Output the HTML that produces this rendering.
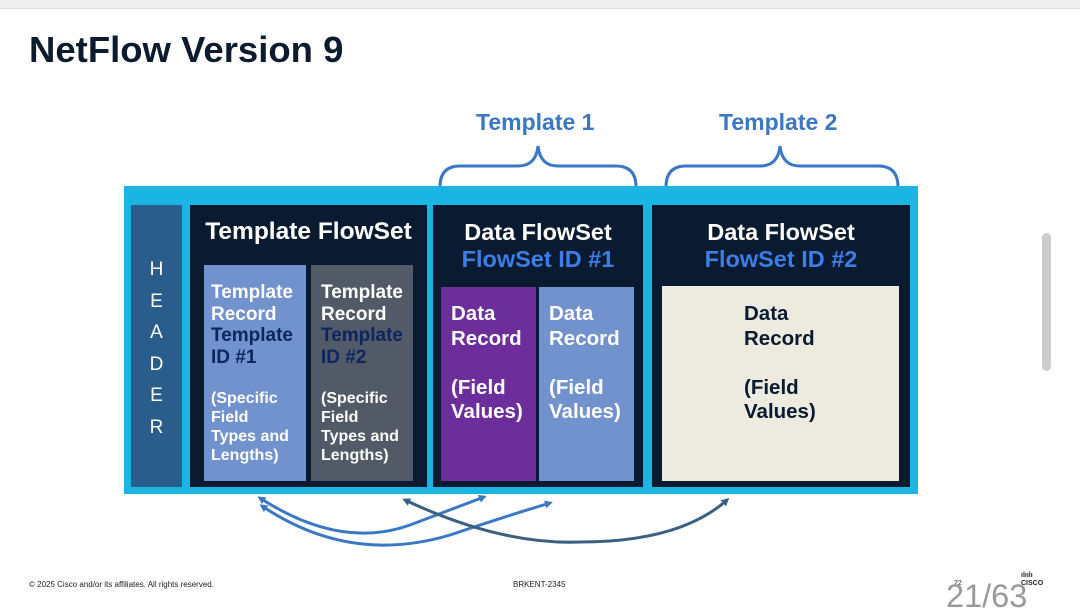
<!DOCTYPE html>
<html><head><meta charset="utf-8"><style>
body{margin:0;width:1080px;height:608px;background:#fff;position:relative;overflow:hidden;font-family:"Liberation Sans",sans-serif;}
.a{position:absolute;white-space:nowrap;}
.b{font-weight:bold;}
.dk{background:#0a1a30;}
.t{color:#fff;font-weight:bold;}
</style></head><body>
<div class="a" style="left:0;top:0;width:1080px;height:8px;background:#eee;border-bottom:1px solid #ddd"></div>
<div class="a b" style="left:29px;top:29px;font-size:36.5px;color:#0d1b2e">NetFlow Version 9</div>
<div class="a b" style="left:476px;top:109px;font-size:23px;color:#3a78c6">Template 1</div>
<div class="a b" style="left:719px;top:109px;font-size:23px;color:#3a78c6">Template 2</div>
<svg class="a" style="left:0;top:0" width="1080" height="608">
<g fill="none" stroke="#3a78c6" stroke-width="3">
<path d="M440,187 Q440,166 460,166 L518,166 Q536,166 538,146 Q540,166 558,166 L616,166 Q636,166 636,187"/>
<path d="M666,187 Q666,166 686,166 L760,166 Q778,166 780,146 Q782,166 800,166 L878,166 Q898,166 898,187"/>
</g>
</svg>
<div class="a" style="left:124px;top:186px;width:794px;height:308px;background:#1bb5e3"></div>
<div class="a" style="left:131px;top:205px;width:51px;height:282px;background:#2b5d8c"></div>
<div class="a" style="left:131px;top:254px;width:51px;text-align:center;color:#fff;font-size:19px;line-height:31.5px;white-space:normal">H<br>E<br>A<br>D<br>E<br>R</div>
<div class="a dk" style="left:190px;top:205px;width:237px;height:282px"></div>
<div class="a t" style="left:190px;top:218px;width:237px;text-align:center;font-size:24.5px">Template FlowSet</div>
<div class="a" style="left:204px;top:265px;width:102px;height:216px;background:#7292cd"></div>
<div class="a" style="left:311px;top:265px;width:102px;height:216px;background:#515a66"></div>
<div class="a t" style="left:211px;top:282px;font-size:19px;line-height:21.5px">Template<br>Record<br><span style="color:#0d2560">Template<br>ID #1</span></div>
<div class="a t" style="left:211px;top:389px;font-size:16px;line-height:19px">(Specific<br>Field<br>Types and<br>Lengths)</div>
<div class="a t" style="left:321px;top:282px;font-size:19px;line-height:21.5px">Template<br>Record<br><span style="color:#0d2560">Template<br>ID #2</span></div>
<div class="a t" style="left:321px;top:389px;font-size:16px;line-height:19px">(Specific<br>Field<br>Types and<br>Lengths)</div>
<div class="a dk" style="left:433px;top:205px;width:210px;height:282px"></div>
<div class="a t" style="left:433px;top:219px;width:210px;text-align:center;font-size:23.5px;line-height:27px">Data FlowSet<br><span style="color:#3a7ee6">FlowSet ID #1</span></div>
<div class="a" style="left:441px;top:287px;width:95px;height:194px;background:#6b2e9a"></div>
<div class="a" style="left:539px;top:287px;width:95px;height:194px;background:#7292cd"></div>
<div class="a t" style="left:451px;top:302px;font-size:20.5px;line-height:24.5px">Data<br>Record<br><br>(Field<br>Values)</div>
<div class="a t" style="left:549px;top:302px;font-size:20.5px;line-height:24.5px">Data<br>Record<br><br>(Field<br>Values)</div>
<div class="a dk" style="left:652px;top:205px;width:258px;height:282px"></div>
<div class="a t" style="left:652px;top:219px;width:258px;text-align:center;font-size:23.5px;line-height:27px">Data FlowSet<br><span style="color:#3a7ee6">FlowSet ID #2</span></div>
<div class="a" style="left:662px;top:286px;width:237px;height:195px;background:#edebe0"></div>
<div class="a b" style="left:744px;top:302px;font-size:20.5px;line-height:24.5px;color:#0a1a30">Data<br>Record<br><br>(Field<br>Values)</div>
<svg class="a" style="left:0;top:0" width="1080" height="608">
<defs>
<marker id="m1" markerWidth="8" markerHeight="8" refX="5" refY="4" orient="auto-start-reverse" markerUnits="userSpaceOnUse"><path d="M0,0 L8,4 L0,8 z" fill="#3a78c6"/></marker>
<marker id="m2" markerWidth="8" markerHeight="8" refX="5" refY="4" orient="auto-start-reverse" markerUnits="userSpaceOnUse"><path d="M0,0 L8,4 L0,8 z" fill="#3a5f80"/></marker>
</defs>
<g fill="none" stroke-width="3">
<path d="M260,498 Q340,550 410,525 Q450,510 484,497" stroke="#3a78c6" marker-start="url(#m1)" marker-end="url(#m1)"/>
<path d="M262,506 Q350,565 450,535 Q500,518 550,503" stroke="#3a78c6" marker-start="url(#m1)" marker-end="url(#m1)"/>
<path d="M405,500 Q500,545 580,542 Q680,542 727,500" stroke="#3a5f80" marker-start="url(#m2)" marker-end="url(#m2)"/>
</g>
</svg>
<div class="a" style="left:29px;top:580px;font-size:8px;color:#222">© 2025 Cisco and/or its affiliates. All rights reserved.</div>
<div class="a" style="left:513px;top:580px;font-size:8px;color:#222">BRKENT-2345</div>
<div class="a" style="left:954px;top:580px;font-size:7px;color:#222">22</div>
<div class="a b" style="left:1021px;top:572px;font-size:7px;color:#222;line-height:8px">ılıılı<br>CISCO</div>
<div class="a" style="left:946px;top:578px;font-size:32.5px;color:#999">21/63</div>
<div class="a" style="left:1042px;top:233px;width:9px;height:138px;border-radius:5px;background:#ccc"></div>
</body></html>
